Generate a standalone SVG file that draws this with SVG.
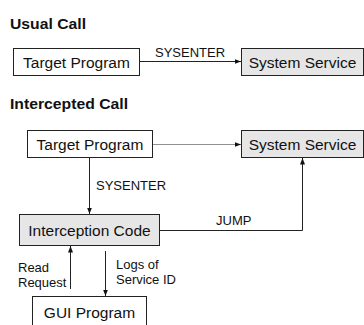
<svg xmlns="http://www.w3.org/2000/svg" width="364" height="325" viewBox="0 0 364 325">
<style>
.box{fill:#fff;stroke:#222;stroke-width:1}
.gray{fill:#e6e6e6;stroke:#222;stroke-width:1}
.t{font-family:"Liberation Sans",Arial,sans-serif;font-size:15.5px;fill:#111;text-anchor:middle}
.lbl{font-family:"Liberation Sans",Arial,sans-serif;font-size:13px;fill:#111}
.title{font-family:"Liberation Sans",Arial,sans-serif;font-size:15px;font-weight:bold;fill:#111}
.ln{fill:none;stroke:#222;stroke-width:1}
</style>
<defs>
<marker id="ah" markerWidth="8" markerHeight="8" refX="6.5" refY="4" orient="auto" markerUnits="userSpaceOnUse">
<path d="M0,1.5 L6.5,4 L0,6.5 Z" fill="#111"/>
</marker>
</defs>
<text class="title" x="10" y="29" textLength="76" lengthAdjust="spacingAndGlyphs">Usual Call</text>
<text class="title" x="10" y="109" textLength="118" lengthAdjust="spacingAndGlyphs">Intercepted Call</text>
<g id="usual-target"><rect class="box" x="13.5" y="48.5" width="126" height="27"/><text class="t" x="76.5" y="67.5">Target Program</text></g>
<g id="usual-service"><rect class="gray" x="241.5" y="48.5" width="122" height="27"/><text class="t" x="302.5" y="67.5">System Service</text></g>
<g id="int-target"><rect class="box" x="27.5" y="130.5" width="125" height="27"/><text class="t" x="90" y="149.5">Target Program</text></g>
<g id="int-service"><rect class="gray" x="241.5" y="130.5" width="122" height="27"/><text class="t" x="302.5" y="149.5">System Service</text></g>
<g id="interception"><rect class="gray" x="19.5" y="214.5" width="140" height="31"/><text class="t" x="89.5" y="236">Interception Code</text></g>
<g id="gui"><rect class="box" x="32.5" y="296.5" width="114" height="32"/><text class="t" x="89.5" y="318">GUI Program</text></g>
<g id="connectors">
<line class="ln" x1="139.5" y1="61.5" x2="241" y2="61.5" marker-end="url(#ah)"/>
<text class="lbl" x="155" y="57">SYSENTER</text>
<line class="ln" x1="152.5" y1="144.5" x2="241" y2="144.5" stroke-dasharray="1,1" marker-end="url(#ah)"/>
<line class="ln" x1="89.5" y1="158" x2="89.5" y2="214" marker-end="url(#ah)"/>
<text class="lbl" x="96" y="190">SYSENTER</text>
<polyline class="ln" points="160,230.5 302.5,230.5 302.5,158" stroke="#555" marker-end="url(#ah)"/>
<text class="lbl" x="216" y="225">JUMP</text>
<line class="ln" x1="70.5" y1="289" x2="70.5" y2="246" marker-end="url(#ah)"/>
<line class="ln" x1="105.5" y1="251" x2="105.5" y2="296" marker-end="url(#ah)"/>
<text class="lbl" x="18" y="272">Read</text>
<text class="lbl" x="18" y="287">Request</text>
<text class="lbl" x="116" y="269">Logs of</text>
<text class="lbl" x="116" y="284">Service ID</text>
</g>
</svg>
